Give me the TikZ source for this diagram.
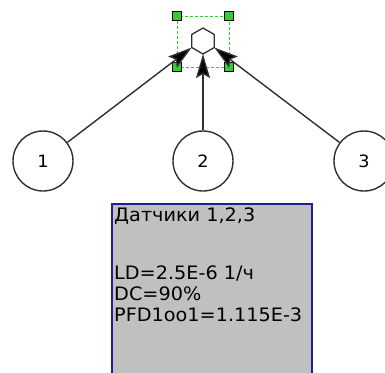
\documentclass[tikz,border=0pt]{standalone}
\usepackage{fontspec}
\setmainfont{DejaVu Sans}[FakeStretch=1.04]
\usetikzlibrary{arrows.meta}
\definecolor{boxgray}{HTML}{C0C0C0}
\definecolor{boxblue}{HTML}{202090}
\definecolor{selgreen}{HTML}{33CC33}
\definecolor{edgegray}{HTML}{303030}
\begin{document}
\begin{tikzpicture}[x=1pt,y=1pt,
  sensor/.style={circle,draw=edgegray,fill=white,line width=1.4pt,minimum size=60pt,inner sep=0pt,
    font=\fontsize{17}{20}\selectfont},
  handle/.style={draw=black,fill=selgreen,line width=0.9pt,minimum size=9pt,inner sep=0pt},
  link/.style={draw=edgegray,line width=1.4pt,-{Stealth[length=24pt,width=14pt,inset=4pt,fill=black]}},
  txt/.style={anchor=base west,inner sep=0pt,text=black,font=\fontsize{18.5}{21}\selectfont}]
\useasboundingbox (0,0) rectangle (385,-372);

% info box (continues below the lower edge)
\draw[fill=boxgray,draw=boxblue,line width=1.6pt] (112,-204) rectangle (312,-390);
\node[txt] (t1) at (114,-221) {Датчики 1,2,3};
\node[txt] (t2) at (114,-279) {LD=2.5E-6 1/ч};
\node[txt] (t3) at (114,-300) {DC=90\%};
\node[txt] (t4) at (114,-321) {PFD1oo1=1.115E-3};

% selection frame around the gate
\draw[selgreen,line width=1pt,dash pattern=on 3pt off 2pt] (177,-16) rectangle (229,-67);
\node[handle] (h1) at (177,-16) {};
\node[handle] (h2) at (229,-16) {};
\node[handle] (h3) at (177,-67) {};
\node[handle] (h4) at (229,-67) {};

% voting gate: pointy-top hexagon
\coordinate (gt)  at (203,-28);
\coordinate (gur) at (214.3,-34.5);
\coordinate (glr) at (214.3,-47.5);
\coordinate (gb)  at (203,-54);
\coordinate (gll) at (191.7,-47.5);
\coordinate (gul) at (191.7,-34.5);
\draw[draw=edgegray,fill=white,line width=1.3pt,line join=miter]
  (gt) -- (gur) -- (glr) -- (gb) -- (gll) -- (gul) -- cycle;

% sensors
\node[sensor] (s1) at (43,-161) {1};
\node[sensor] (s2) at (203,-161) {2};
\node[sensor] (s3) at (364,-161) {3};

\draw[link] (s1) -- (gll);
\draw[link] (s2) -- (gb);
\draw[link] (s3) -- (glr);
\end{tikzpicture}
\end{document}
